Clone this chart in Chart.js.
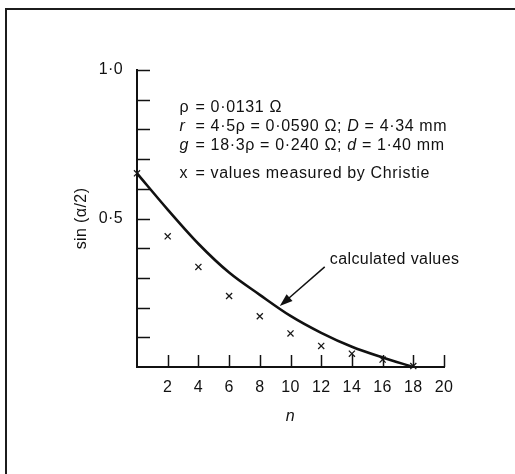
<!DOCTYPE html>
<html>
<head>
<meta charset="utf-8">
<script src="https://cdn.jsdelivr.net/npm/chart.js@4.4.0/dist/chart.umd.min.js"></script>
<style>
  html, body { margin: 0; padding: 0; background: #fff; overflow: hidden; }
  #moldura { position: absolute; left: 5px; top: 8px; width: 530px; height: 490px; border-left: 2px solid #1c1c1c; border-top: 2px solid #1c1c1c; }
  #caixa { position: absolute; left: 0; top: 0; width: 515px; height: 474px; }
</style>
</head>
<body>
<div id="moldura"></div>
<div id="caixa"><canvas id="grafico"></canvas></div>
<script>
// dados
const nMedidos = [0, 2, 4, 6, 8, 10, 12, 14, 16, 18];
const valoresMedidos = [0.652, 0.44, 0.337, 0.239, 0.171, 0.113, 0.071, 0.045, 0.025, 0.003];

const nCalculados = [0, 2, 4, 6, 8, 10, 12, 14, 16, 18];
const valoresCalculados = [0.652, 0.53, 0.415, 0.318, 0.243, 0.172, 0.115, 0.068, 0.032, 0.0];

const valoresRotuloY = [0.5, 1.0];
const textosRotuloY = ['0·5', '1·0'];
const rotulosX = ['2', '4', '6', '8', '10', '12', '14', '16', '18', '20'];

// bloco de texto no canto superior (símbolo, resto em pedaços [texto, itálico])
const simbolosLegenda = [['ρ', false], ['r', true], ['g', true], ['x', false]];
const restoLegenda = [
    [['= 0·0131 Ω', false]],
    [['= 4·5ρ = 0·0590 Ω; ', false], ['D', true], [' = 4·34 mm', false]],
    [['= 18·3ρ = 0·240 Ω; ', false], ['d', true], [' = 1·40 mm', false]],
    [['= values measured by Christie', false]]
];
const legendaX = 2.77;
const legendaY = [0.872, 0.808, 0.744, 0.652];

const textoSeta = 'calculated values';
const posTextoSeta = [12.56, 0.36];
const inicioSeta = [12.23, 0.337];
const pontaSeta = [9.3, 0.205];

const FONTE = '"Liberation Sans", Arial, sans-serif';
const TAM = 16;
const COR = '#111';

const espacamento = {
    id: 'espacamento',
    beforeDraw(chart) {
        chart.ctx.letterSpacing = '0.4px';
    }
};

const marcasInternas = {
    id: 'marcasInternas',
    afterDraw(chart) {
        const { ctx, scales: { x, y } } = chart;
        ctx.save();
        ctx.strokeStyle = COR;
        ctx.lineWidth = 1.5;
        y.ticks.forEach(t => {
            if (t.value === 0) return;
            const py = Math.round(y.getPixelForValue(t.value)) + 0.5;
            ctx.beginPath();
            ctx.moveTo(x.left, py);
            ctx.lineTo(x.left + 13, py);
            ctx.stroke();
        });
        x.ticks.forEach(t => {
            if (t.value === 0) return;
            const px = Math.round(x.getPixelForValue(t.value)) + 0.5;
            ctx.beginPath();
            ctx.moveTo(px, y.bottom);
            ctx.lineTo(px, y.bottom - 12);
            ctx.stroke();
        });
        ctx.restore();
    }
};

const anotacoes = {
    id: 'anotacoes',
    afterDraw(chart) {
        const { ctx, scales: { x, y } } = chart;
        ctx.save();
        ctx.letterSpacing = '0.65px';
        ctx.fillStyle = COR;
        ctx.textBaseline = 'middle';
        ctx.textAlign = 'left';
        const x0 = x.getPixelForValue(legendaX);
        simbolosLegenda.forEach(([simbolo, italico], i) => {
            const py = y.getPixelForValue(legendaY[i]);
            ctx.font = (italico ? 'italic ' : '') + TAM + 'px ' + FONTE;
            ctx.fillText(simbolo, x0, py);
            let px = x0 + 16;
            restoLegenda[i].forEach(([texto, it]) => {
                ctx.font = (it ? 'italic ' : '') + TAM + 'px ' + FONTE;
                ctx.fillText(texto, px, py);
                px += ctx.measureText(texto).width;
            });
        });

        // seta "calculated values"
        ctx.letterSpacing = '0.4px';
        ctx.font = TAM + 'px ' + FONTE;
        ctx.fillText(textoSeta, x.getPixelForValue(posTextoSeta[0]), y.getPixelForValue(posTextoSeta[1]));
        const ax = x.getPixelForValue(inicioSeta[0]), ay = y.getPixelForValue(inicioSeta[1]);
        const bx = x.getPixelForValue(pontaSeta[0]), by = y.getPixelForValue(pontaSeta[1]);
        const ang = Math.atan2(by - ay, bx - ax);
        ctx.strokeStyle = COR;
        ctx.lineWidth = 1.5;
        ctx.beginPath();
        ctx.moveTo(ax, ay);
        ctx.lineTo(bx - 10 * Math.cos(ang), by - 10 * Math.sin(ang));
        ctx.stroke();
        ctx.beginPath();
        ctx.moveTo(bx, by);
        ctx.lineTo(bx - 13 * Math.cos(ang) + 4.5 * Math.sin(ang), by - 13 * Math.sin(ang) - 4.5 * Math.cos(ang));
        ctx.lineTo(bx - 13 * Math.cos(ang) - 4.5 * Math.sin(ang), by - 13 * Math.sin(ang) + 4.5 * Math.cos(ang));
        ctx.closePath();
        ctx.fillStyle = COR;
        ctx.fill();
        ctx.restore();
    }
};

function gerarGrafico() {
    const ctx = document.getElementById('grafico');
    if (!ctx) return;

    new Chart(ctx, {
        type: 'line',
        data: {
            datasets: [
                {
                    label: 'calculated values',
                    data: nCalculados.map((n, i) => ({ x: n, y: valoresCalculados[i] })),
                    borderColor: COR,
                    borderWidth: 2.6,
                    pointRadius: 0,
                    cubicInterpolationMode: 'monotone',
                    clip: false
                },
                {
                    label: 'values measured by Christie',
                    data: nMedidos.map((n, i) => ({ x: n, y: valoresMedidos[i] })),
                    showLine: false,
                    pointStyle: 'crossRot',
                    pointRadius: 4.3,
                    pointBorderWidth: 1.3,
                    borderColor: '#1a1a1a',
                    clip: false
                }
            ]
        },
        options: {
            responsive: true,
            maintainAspectRatio: false,
            animation: false,
            layout: { padding: { top: 70, right: 71, left: 0, bottom: 0 } },
            plugins: { legend: { display: false }, tooltip: { enabled: false } },
            scales: {
                x: {
                    type: 'linear',
                    min: 0,
                    max: 20,
                    afterFit: (s) => { s.height = 107; },
                    grid: { drawOnChartArea: false, drawTicks: false },
                    border: { display: true, color: COR, width: 2 },
                    ticks: {
                        stepSize: 2,
                        autoSkip: false,
                        maxRotation: 0,
                        padding: 11,
                        color: COR,
                        font: { family: FONTE, size: TAM },
                        callback: (v) => rotulosX.includes(String(v)) ? String(v) : ''
                    },
                    title: {
                        display: true,
                        text: 'n',
                        color: COR,
                        font: { family: FONTE, size: TAM, style: 'italic' },
                        padding: { bottom: 48 }
                    }
                },
                y: {
                    type: 'linear',
                    min: 0,
                    max: 1,
                    afterFit: (s) => { s.width = 137; },
                    grid: { drawOnChartArea: false, drawTicks: false },
                    border: { display: true, color: COR, width: 2 },
                    ticks: {
                        stepSize: 0.1,
                        autoSkip: false,
                        padding: 14,
                        color: COR,
                        font: { family: FONTE, size: TAM },
                        callback: (v) => {
                            const idx = valoresRotuloY.findIndex(r => Math.abs(r - v) < 1e-6);
                            return idx >= 0 ? textosRotuloY[idx] : '';
                        }
                    },
                    title: {
                        display: true,
                        text: 'sin (α/2)',
                        color: COR,
                        font: { family: FONTE, size: TAM },
                        padding: { top: 72 }
                    }
                }
            }
        },
        plugins: [espacamento, marcasInternas, anotacoes]
    });
}

gerarGrafico();
</script>
</body>
</html>
